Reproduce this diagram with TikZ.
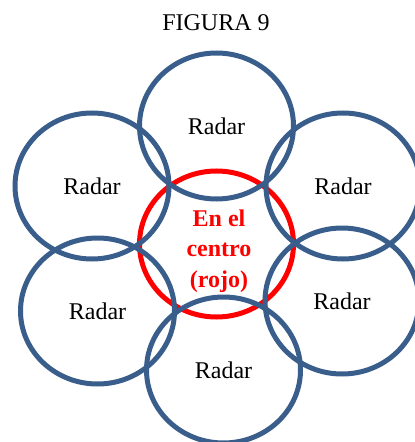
\documentclass[tikz,border=0pt]{standalone}
\usepackage{fontspec}
\setmainfont{Liberation Serif}
\usetikzlibrary{shapes.geometric}
\definecolor{radarblue}{HTML}{3A5E8C}
\definecolor{centrored}{HTML}{FF0000}

\begin{document}
\begin{tikzpicture}[
    x=0.75pt, y=-0.75pt,
    radar/.style={
        draw=radarblue, ellipse, line width=3.75pt,
        minimum width=115.5pt, minimum height=109.5pt,
        inner sep=0pt, font=\fontsize{18}{21.75}\selectfont
    },
    centro/.style={
        draw=centrored, ellipse, line width=3.75pt,
        minimum width=115.5pt, minimum height=109.5pt,
        inner sep=0pt
    },
    centrotxt/.style={
        align=center, text=centrored, inner sep=0pt,
        font=\fontsize{18}{23}\selectfont\bfseries
    },
    titulo/.style={font=\fontsize{18}{21.75}\selectfont}
]
\useasboundingbox (0,0) rectangle (414,442);

% Titulo
\node[titulo] (tit) at (216, 23) {FIGURA 9};

% Circulo central (debajo de los demas)
\node[centro] (cen) at (216.5, 244) {};
\node[centrotxt] (centxt) at (219, 251) {En el\\ centro\\ (rojo)};

% Radares alrededor
\node[radar] (rtop) at (216.5, 126) {Radar};
\node[radar] (rlu)  at (92, 186)    {Radar};
\node[radar] (rru)  at (343, 186)   {Radar};
\node[radar] (rll)  at (97.5, 311)  {Radar};
\node[radar] (rrl)  at (342, 301)   {Radar};
\node[radar] (rbot) at (223.5, 370) {Radar};

\end{tikzpicture}
\end{document}
